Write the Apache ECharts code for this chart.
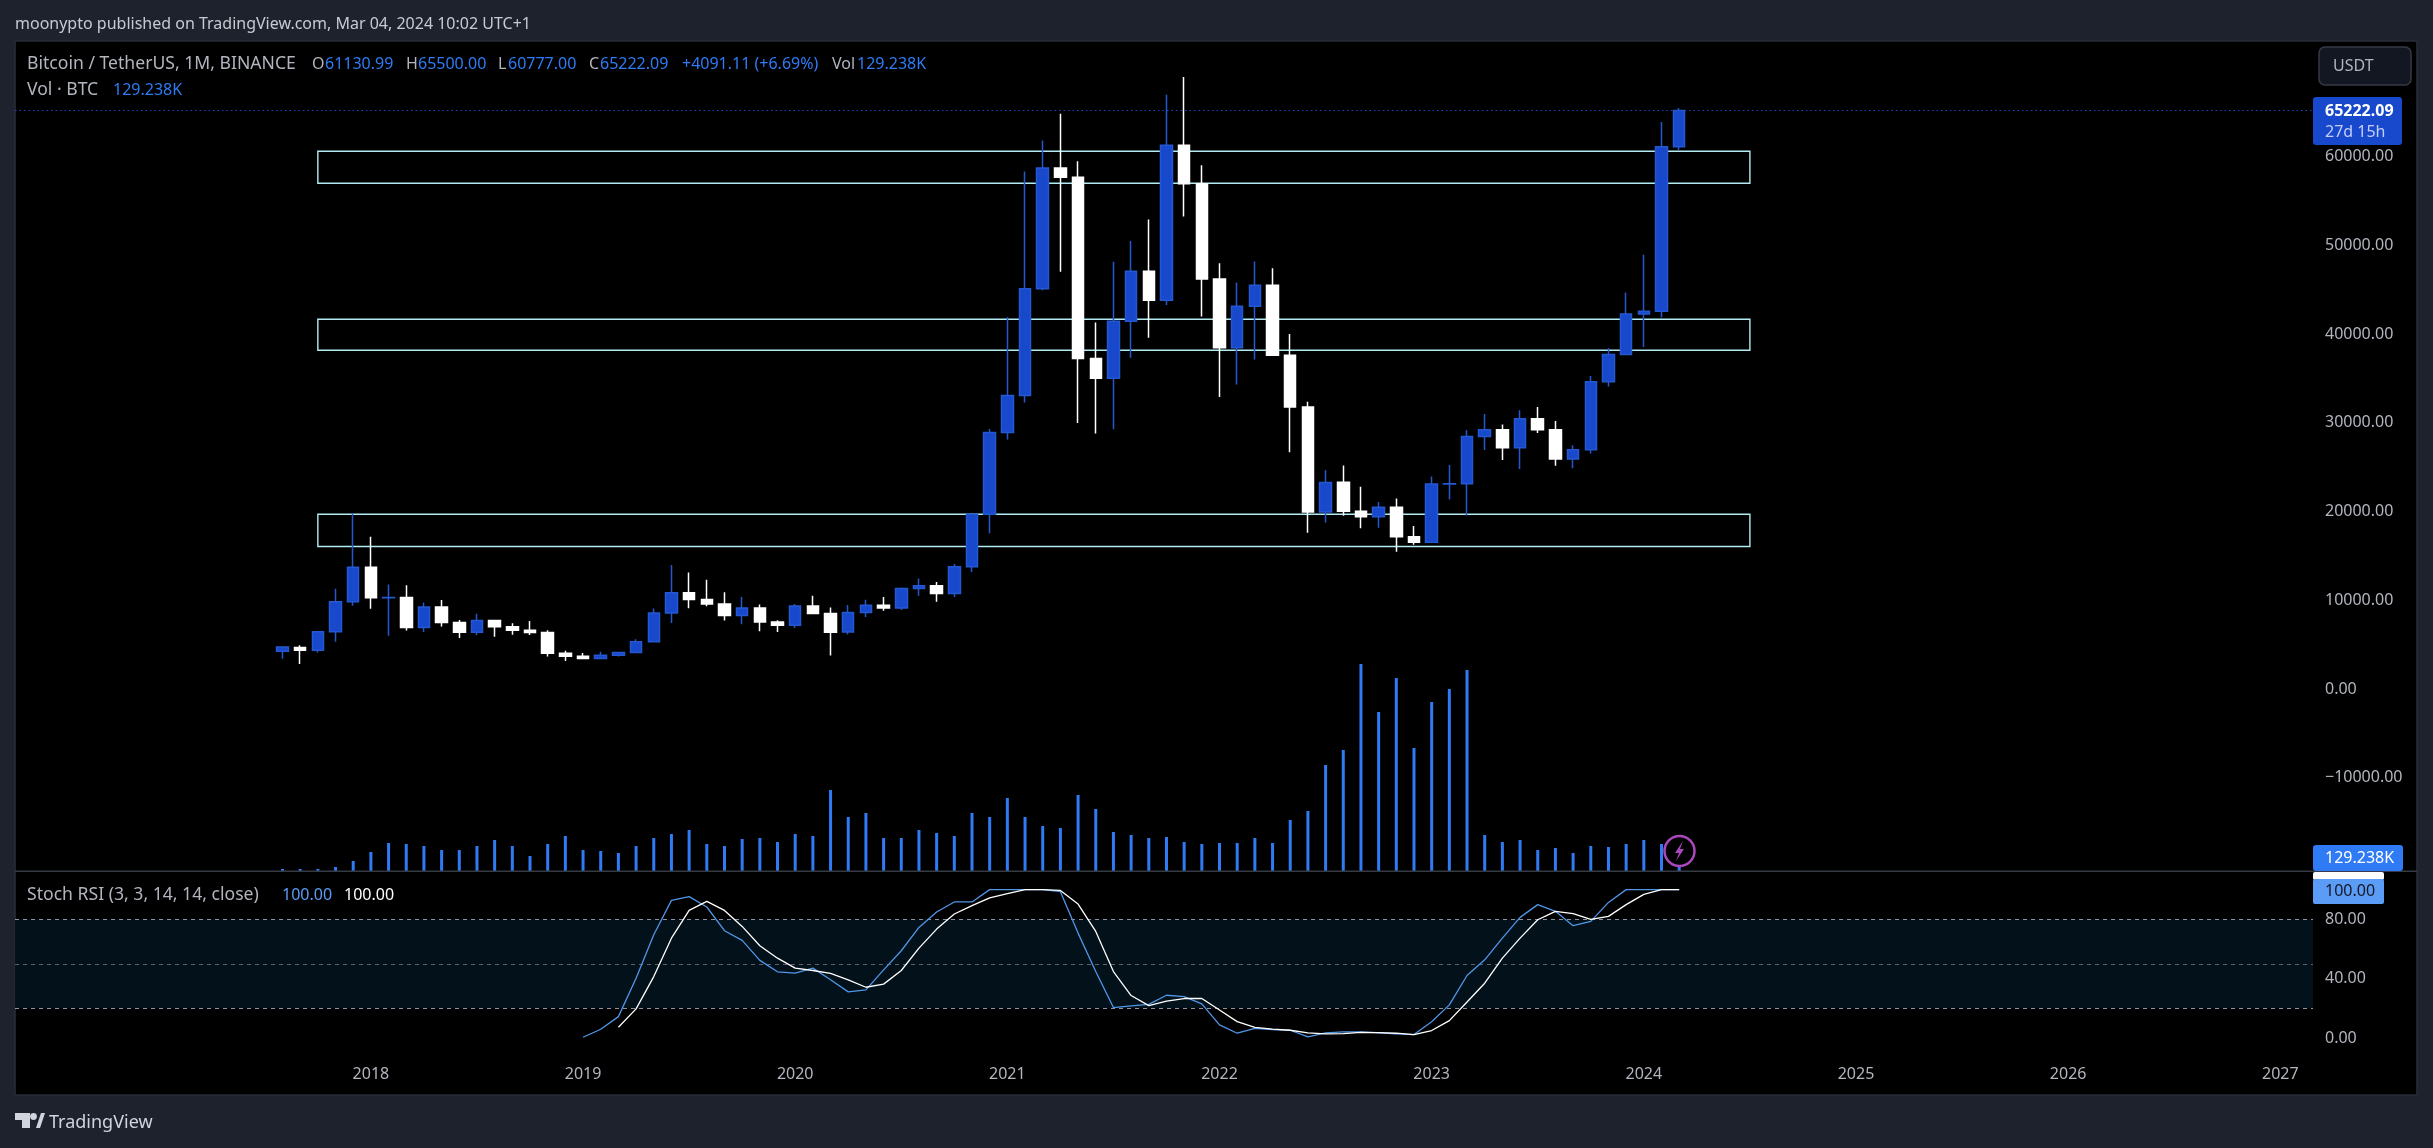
<!DOCTYPE html>
<html><head><meta charset="utf-8">
<style>html,body{margin:0;padding:0;background:#1e222d}#c{width:2433px;height:1148px}</style>
<script src="https://cdn.jsdelivr.net/npm/echarts@6/dist/echarts.min.js"></script>
</head><body><div id="c"></div>
<script>
// Months since Aug 2017 are the x values (Aug 2017 = 0 ... Mar 2024 = 79)
const opens=[4261,4689,4378,6463,9837,13716,10285,10325,6922,9246,7485,6391,7735,7011,6626,6369,4041,3701,3434,3814,4102,5321,8555,10854,10080,9587,8289,9140,7540,7195,9351,8523,6412,8620,9448,9138,11335,11649,10776,13791,19695,28923,33092,45134,58739,57697,37253,35045,41461,47100,43820,61300,56950,46216,38466,43160,45510,37630,31801,19942,23296,20048,19431,20490,17165,16542,23125,23141,28465,29233,27210,30472,29232,25940,26962,34639,37723,42283,42580,61130];
const highs=[4745,4939,6470,11300,19798,17176,11786,11710,9759,10020,7786,8491,7750,7410,7680,6615,4312,4069,4198,4121,5600,9074,13970,13147,12325,10905,10370,9513,7750,9575,10500,9188,9460,10067,10380,11444,12468,12050,14100,19863,29300,41950,58352,61844,64854,59500,41330,48168,50500,52920,67000,69000,59053,47990,45821,48189,47444,40023,32398,24668,25211,22799,21085,21470,18387,23960,25250,29184,31000,29820,31431,31804,30200,27483,35280,38450,44700,48969,63913,65500];
const lows=[3400,2817,4110,5325,9380,9036,6000,6600,6430,7032,5750,6070,5880,6111,6100,3652,3156,3349,3373,3670,4067,5272,7451,9111,9320,7710,7300,6515,6435,6871,8445,3782,6150,8117,8833,8893,10518,9825,10374,13195,17572,28130,32296,44950,47044,30000,28805,29278,37332,39600,43283,53256,42000,32917,34322,37155,37578,26700,17622,18781,19520,18125,18190,15476,16256,16499,21351,19549,26942,25811,24800,28861,25166,24901,26538,34097,37615,38555,41884,60777];
const closes=[4724,4378,6463,9838,13716,10285,10327,6923,9246,7485,6391,7730,7011,6626,6371,4041,3702,3434,3813,4103,5320,8555,10854,10080,9587,8289,9140,7541,7195,9352,8523,6410,8620,9448,9138,11335,11649,10776,13791,19695,28923,33092,45135,58740,57694,37253,35045,41461,47100,43824,61299,56950,46216,38466,43160,45510,37630,31801,19942,23293,20050,19431,20490,17164,16542,23125,23141,28465,29233,27210,30472,29232,25941,26962,34639,37723,42283,42580,61130,65222];
// Volume in thousands of BTC
const volumes=[20,20,20,40,100,190,280,270,250,210,210,250,310,250,150,270,350,210,200,180,250,330,370,410,270,250,320,330,290,370,350,810,540,580,330,330,410,380,350,580,540,730,540,450,430,760,620,390,360,330,340,290,270,280,280,330,280,510,600,1060,1210,2070,1590,1930,1230,1690,1820,2010,360,290,310,210,230,180,250,240,270,310,270,129];
// Stoch RSI: K starts at Jan 2019 (x = 17), D at Mar 2019 (x = 19)
const stochK=[0.5,5.9,14.4,40.3,69.6,92.8,95.3,88.3,72.3,65.8,52.3,44.6,43.7,47.1,39.2,31.1,32.4,45.9,58.8,74.5,84.9,91.7,91.7,100,100,100,100,98.6,70.7,44.8,20.5,21.6,22.7,28.8,27.9,23,8.8,3.2,6.5,5.6,5.2,0.7,3.4,4.1,4.1,3.4,2.7,2.3,11,22.3,42.1,52.7,67.3,81.3,89.9,85.4,75.7,78.6,91.4,100,100,100,100];
const stochD=[7.2,19.6,41.4,67.3,86,92.1,86,75.2,62.2,53.8,47.1,45.5,43.5,39.2,34.2,36.3,45.5,60.6,73.4,83.6,89.2,94.4,97.3,100,100,99.5,90.3,71.8,44.8,28.6,21.8,24.8,26.6,26.6,18.9,11,7.2,5.9,5.2,3.4,2.7,2.9,3.8,3.6,3.2,2.3,5,11.7,24.3,36.9,53.8,67.3,79.7,85.4,83.8,80,82,89.9,96.8,100,100];
const kStart=17, dStart=19;
const zones=[[16065,19695],[38185,41680],[57010,60620]];
const zoneSpan=[2,83];
const yearTicks=[5,17,29,41,53,65,77,89,101,113];
const priceTicks=[-10000,0,10000,20000,30000,40000,50000,60000];
const stochTicks=[0,40,80];
const stochLevels=[80,50,20];
const lastPrice=65222.09;

const up='#1848cc', upEdge='#2458d0', volColor='#2f7bf5', kColor='#5096e8', muted='#b2b5be';
const FONT='"Noto Sans",sans-serif';

function txt(x,y,text,fill,size,weight){
  return {type:'text',x:x,y:y,z:100,silent:true,style:{text:text,fill:fill,font:(weight?weight+' ':'')+(size||16)+'px '+FONT,textVerticalAlign:'middle'}};
}
function rect(x,y,w,h,fill,r,stroke,z){
  return {type:'rect',z:z||90,silent:true,shape:{x:x,y:y,width:w,height:h,r:r||0},style:{fill:fill,stroke:stroke||null,lineWidth:stroke?1.5:0}};
}
const g=[
  rect(15,41,2402,1054,'transparent',0,'#2a2e39',1),
  rect(15,870.5,2402,1.5,'#363a45',0,null,5),
  txt(15,24,'moonypto published on TradingView.com, Mar 04, 2024 10:02 UTC+1','#c8cad2',16),
  txt(27,64,'Bitcoin / TetherUS, 1M, BINANCE','#b2b5be',17.6),
  txt(312,64,'O','#b2b5be'),txt(325,64,'61130.99',volColor),
  txt(406,64,'H','#b2b5be'),txt(418,64,'65500.00',volColor),
  txt(498,64,'L','#b2b5be'),txt(508,64,'60777.00',volColor),
  txt(589,64,'C','#b2b5be'),txt(600,64,'65222.09',volColor),
  txt(682,64,'+4091.11 (+6.69%)',volColor),
  txt(832,64,'Vol','#b2b5be'),txt(857,64,'129.238K',volColor),
  txt(27,90,'Vol · BTC','#b2b5be',17.6),txt(113,90,'129.238K',volColor),
  txt(27,895,'Stoch RSI (3, 3, 14, 14, close)','#b2b5be',17.6),
  txt(282,895,'100.00','#5b9cf6'),txt(344,895,'100.00','#ffffff'),
  rect(2319,47,92,38,'#131722',6,'#363a45'),
  txt(2333,66,'USDT','#b2b5be'),
  rect(2313,97,89,48,up,3),
  txt(2325,111,'65222.09','#ffffff',16,'bold'),
  txt(2325,132,'27d 15h','#c3cffa'),
  rect(2313,845,90,26,volColor,3),
  txt(2325,858,'129.238K','#ffffff'),
  rect(2313,872,71,8,'#ffffff',2),
  rect(2313,879,71,25,'#5b9cf6',2),
  txt(2325,891,'100.00','#131722'),
  {type:'circle',z:95,silent:true,shape:{cx:1679.5,cy:851,r:15},style:{fill:'#000',stroke:'#ab47bc',lineWidth:2.5}},
  {type:'polygon',z:96,silent:true,shape:{points:[[1683,841],[1675,853],[1679,853],[1676,861],[1684,849],[1680,849]]},style:{fill:'#ab47bc'}},
  // TradingView wordmark
  {type:'polygon',z:96,silent:true,shape:{points:[[15,1113],[30,1113],[30,1128],[22,1128],[22,1120],[15,1120]]},style:{fill:'#d1d4dc'}},
  {type:'circle',z:96,silent:true,shape:{cx:33.5,cy:1116.5,r:3.4},style:{fill:'#d1d4dc'}},
  {type:'polygon',z:96,silent:true,shape:{points:[[36,1128],[41,1113],[45,1113],[40,1128]]},style:{fill:'#d1d4dc'}},
  txt(49,1123,'TradingView','#d1d4dc',18)
];

const chart=echarts.init(document.getElementById('c'),null,{width:2433,height:1148,renderer:'canvas'});
const xMin=-15.13, xMax=114.85;
chart.setOption({
  animation:false,
  backgroundColor:'#1e222d',
  graphic:[
    {type:'rect',z:-10,silent:true,shape:{x:15,y:41,width:2402,height:1054},style:{fill:'#000'}}
  ].concat(g),
  grid:[
    {left:15,right:120,top:41,height:830,containLabel:false},
    {left:15,right:120,top:872,height:190,containLabel:false}
  ],
  xAxis:[
    {type:'value',gridIndex:0,min:xMin,max:xMax,axisLine:{show:false},axisTick:{show:false},axisLabel:{show:false},splitLine:{show:false}},
    {type:'value',gridIndex:1,min:xMin,max:xMax,axisLine:{show:false},axisTick:{show:false},splitLine:{show:false},
     axisLabel:{customValues:yearTicks,margin:4,color:muted,fontSize:16,fontFamily:FONT,hideOverlap:false,
       formatter:v=>String(2017+Math.round((v+7)/12))}}
  ],
  yAxis:[
    {type:'value',gridIndex:0,position:'right',min:-20519,max:73055,axisLine:{show:false},axisTick:{show:false},splitLine:{show:false},
     axisLabel:{customValues:priceTicks,margin:12,color:muted,fontSize:16,fontFamily:FONT,formatter:v=>(v<0?'\u2212'+Math.abs(v).toFixed(2):v.toFixed(2))}},
    {type:'value',gridIndex:0,show:false,min:0,max:8300,splitLine:{show:false}},
    {type:'value',gridIndex:1,position:'right',min:-16.2,max:111.9,axisLine:{show:false},axisTick:{show:false},splitLine:{show:false},
     axisLabel:{customValues:stochTicks,margin:12,color:muted,fontSize:16,fontFamily:FONT,formatter:v=>v.toFixed(2)}}
  ],
  series:[
    {type:'bar',name:'Vol',xAxisIndex:0,yAxisIndex:1,barWidth:3,z:1,itemStyle:{color:volColor},
     data:volumes.map((v,i)=>[i,v])},
    {type:'candlestick',name:'BTCUSDT',xAxisIndex:0,yAxisIndex:0,barWidth:12,z:3,
     itemStyle:{color:up,borderColor:upEdge,color0:'#ffffff',borderColor0:'#ffffff',borderWidth:1.5},
     encode:{x:0,y:[1,2,3,4]},
     data:opens.map((o,i)=>[i,o,closes[i],lows[i],highs[i]]),
     markArea:{silent:true,z:2,itemStyle:{color:'transparent',borderColor:'#b2ebf2',borderWidth:1.4},
       data:zones.map(z=>[{xAxis:zoneSpan[0],yAxis:z[0]},{xAxis:zoneSpan[1],yAxis:z[1]}])},
     markLine:{silent:true,symbol:'none',z:1,label:{show:false},lineStyle:{color:up,type:[1.5,3],width:1},
       data:[{yAxis:lastPrice}]}
    },
    {type:'line',name:'%K',xAxisIndex:1,yAxisIndex:2,symbol:'none',z:3,lineStyle:{color:kColor,width:1.3},
     data:stochK.map((v,i)=>[i+kStart,v]),
     markArea:{silent:true,z:1,itemStyle:{color:'#03111a'},data:[[{xAxis:xMin,yAxis:stochLevels[2]},{xAxis:xMax,yAxis:stochLevels[0]}]]},
     markLine:{silent:true,symbol:'none',z:2,label:{show:false},
       data:stochLevels.map((l,i)=>({yAxis:l,lineStyle:{color:i===1?'#5d606b':'#8f929c',type:[4,4],width:1}}))}
    },
    {type:'line',name:'%D',xAxisIndex:1,yAxisIndex:2,symbol:'none',z:4,lineStyle:{color:'#ffffff',width:1.3},
     data:stochD.map((v,i)=>[i+dStart,v])}
  ]
});
</script></body></html>
